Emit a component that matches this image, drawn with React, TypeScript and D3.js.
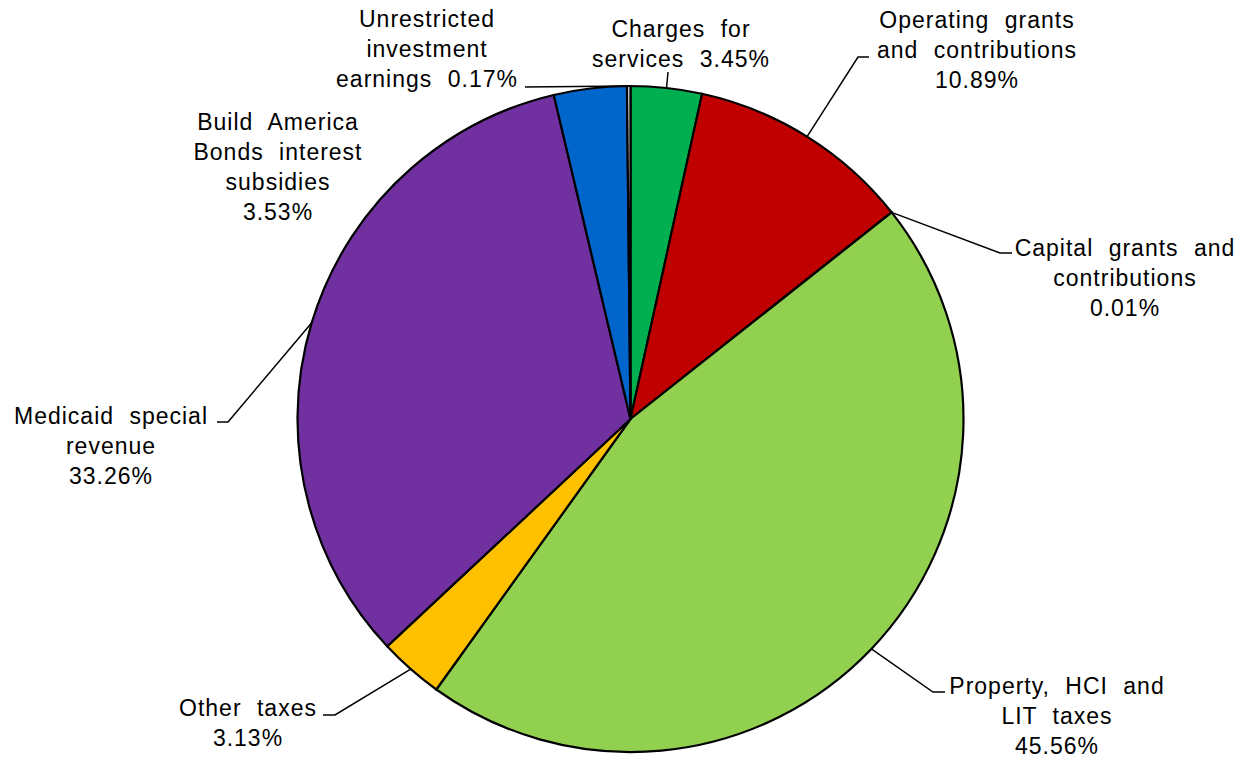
import { pie, arc, PieArcDatum } from "d3";

// revenue shares, clockwise from 12 o'clock
const categories = [
  "Charges for services",
  "Operating grants and contributions",
  "Capital grants and contributions",
  "Property, HCI and LIT taxes",
  "Other taxes",
  "Medicaid special revenue",
  "Build America Bonds interest subsidies",
  "Unrestricted investment earnings",
];
const shares = [3.45, 10.89, 0.01, 45.56, 3.13, 33.26, 3.53, 0.17];
const colors = [
  "#00B050",
  "#C00000",
  "#7F7F7F",
  "#92D050",
  "#FFC000",
  "#7030A0",
  "#0066CC",
  "#D9D9D9",
];
// how each label is broken into lines ("%" marks where the share goes)
const labelLines = [
  ["Charges for", "services %"],
  ["Operating grants", "and contributions", "%"],
  ["Capital grants and", "contributions", "%"],
  ["Property, HCI and", "LIT taxes", "%"],
  ["Other taxes", "%"],
  ["Medicaid special", "revenue", "%"],
  ["Build America", "Bonds interest", "subsidies", "%"],
  ["Unrestricted", "investment", "earnings %"],
];

// label layout: text centre x, first baseline y, and where the leader starts
type Layout = { x: number; y: number; lx?: number; ly?: number; elbow?: number };
const layout: Layout[] = [
  { x: 681, y: 37, lx: 668, ly: 72 },
  { x: 977, y: 28, lx: 869, ly: 57, elbow: -11 },
  { x: 1125, y: 256, lx: 1012, ly: 253, elbow: -12 },
  { x: 1057, y: 694, lx: 945, ly: 692, elbow: -12 },
  { x: 248, y: 716, lx: 323, ly: 715, elbow: 12 },
  { x: 111, y: 424, lx: 217, ly: 422, elbow: 11 },
  { x: 278, y: 130 },
  { x: 427, y: 27, lx: 525, ly: 87 },
];

const W = 1243;
const H = 758;
const cx = 630.5;
const cy = 419;
const R = 333;
const lineH = 30;

type Slice = { name: string; value: number; color: string; i: number };
const data: Slice[] = categories.map((name, i) => ({
  name,
  value: shares[i],
  color: colors[i],
  i,
}));

export default function App() {
  const arcs = pie<Slice>()
    .value((d) => d.value)
    .sort(null)(data);
  const arcGen = arc<PieArcDatum<Slice>>().innerRadius(0).outerRadius(R);

  const edgePoint = (a: PieArcDatum<Slice>) => {
    const m = (a.startAngle + a.endAngle) / 2;
    return [Math.sin(m) * R, -Math.cos(m) * R];
  };

  return (
    <svg
      width={W}
      height={H}
      style={{ position: "absolute", left: 0, top: 0, background: "#fff" }}
      fontFamily="'Liberation Sans', Arial, sans-serif"
      fontSize={23}
    >
      <g transform={`translate(${cx},${cy})`}>
        {arcs.map((a) => (
          <path
            key={a.data.name}
            d={arcGen(a) ?? ""}
            fill={a.data.color}
            stroke="#000"
            strokeWidth={2.2}
            strokeLinejoin="round"
          />
        ))}
      </g>

      {/* leader lines */}
      {arcs.map((a) => {
        const L = layout[a.data.i];
        if (L.lx === undefined || L.ly === undefined) return null;
        const [ex, ey] = edgePoint(a);
        const pts = [[L.lx, L.ly]];
        if (L.elbow) pts.push([L.lx + L.elbow, L.ly]);
        pts.push([cx + ex, cy + ey]);
        return (
          <polyline
            key={"l" + a.data.name}
            points={pts.map((p) => p.join(",")).join(" ")}
            fill="none"
            stroke="#000"
            strokeWidth={1.5}
          />
        );
      })}

      {/* labels */}
      {data.map((d) => {
        const L = layout[d.i];
        const pct = d.value.toFixed(2) + "%";
        return (
          <text
            key={"t" + d.name}
            textAnchor="middle"
            fill="#000"
            letterSpacing={1}
            wordSpacing={8}
          >
            {labelLines[d.i].map((ln, k) => (
              <tspan key={k} x={L.x} y={L.y + k * lineH}>
                {ln.replace("%", pct)}
              </tspan>
            ))}
          </text>
        );
      })}
    </svg>
  );
}
